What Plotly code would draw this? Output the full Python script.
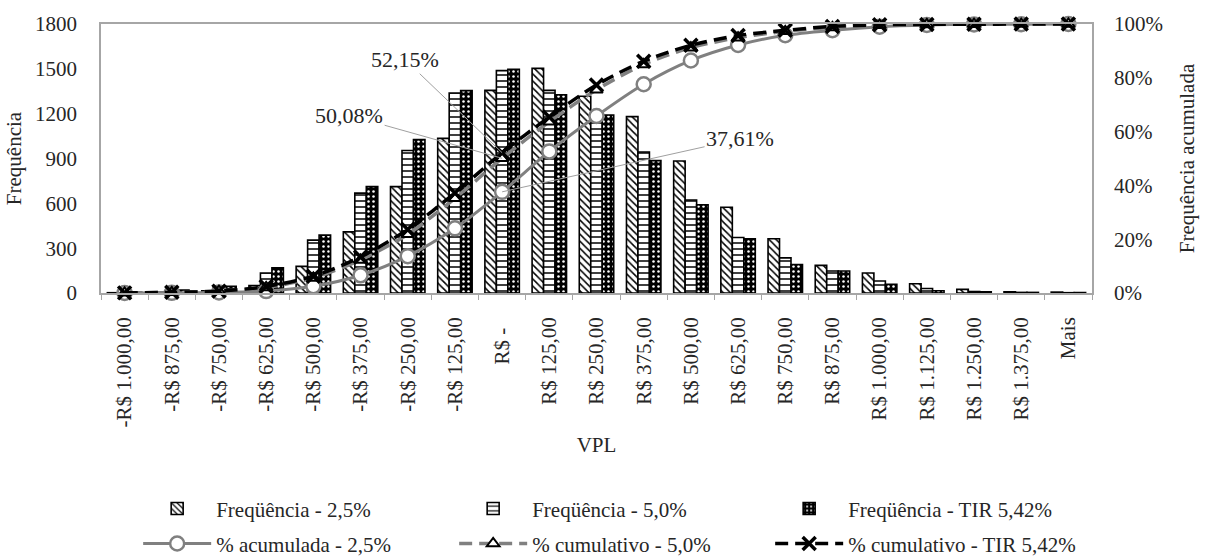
import plotly.graph_objects as go

# VPL classes (bins) shown on the x axis
categorias = [
    "-R$ 1.000,00", "-R$ 875,00", "-R$ 750,00", "-R$ 625,00", "-R$ 500,00",
    "-R$ 375,00", "-R$ 250,00", "-R$ 125,00", "R$ -", "R$ 125,00",
    "R$ 250,00", "R$ 375,00", "R$ 500,00", "R$ 625,00", "R$ 750,00",
    "R$ 875,00", "R$ 1.000,00", "R$ 1.125,00", "R$ 1.250,00", "R$ 1.375,00",
    "Mais",
]

# Frequencies for each discount rate scenario
freq_25 = [2, 5, 14, 50, 178, 409, 712, 1035, 1356, 1503, 1317, 1180, 883, 574,
           363, 185, 134, 62, 24, 8, 6]
freq_50 = [5, 22, 45, 134, 354, 668, 954, 1338, 1488, 1356, 1192, 943, 622, 371,
           235, 147, 80, 30, 10, 4, 2]
freq_tir = [5, 20, 45, 169, 387, 712, 1026, 1354, 1497, 1327, 1191, 886, 591, 363,
            191, 147, 59, 15, 8, 4, 3]

# Cumulative percentages (%)
acum_25 = [0.02, 0.07, 0.21, 0.71, 2.49, 6.58, 13.70, 24.05, 37.61, 52.64, 65.81,
           77.61, 86.44, 92.18, 95.81, 97.66, 99.00, 99.62, 99.86, 99.94, 100.00]
acum_50 = [0.05, 0.27, 0.72, 2.06, 5.60, 12.28, 21.82, 35.20, 50.08, 63.64, 75.56,
           84.99, 91.21, 94.92, 97.27, 98.74, 99.54, 99.84, 99.94, 99.98, 100.00]
acum_tir = [0.05, 0.25, 0.70, 2.39, 6.26, 13.38, 23.64, 37.18, 52.15, 65.42, 77.33,
            86.19, 92.10, 95.73, 97.64, 99.11, 99.70, 99.85, 99.93, 99.97, 100.00]

FONT = "Liberation Serif"
TXT = "#262626"
GRAY = "#808080"
FRAME = "#a6a6a6"
FS = 21

# accounting-style zero label keeps its trailing padding
rotulos = [c + "\u00a0\u00a0" if c == "R$ -" else c for c in categorias]

fig = go.Figure()

bar_line = dict(color="black", width=1.6)
fig.add_trace(go.Bar(
    x=categorias, y=freq_25, name="Freqüência - 2,5%",
    marker=dict(line=bar_line, color="white",
                pattern=dict(shape="\\", fgcolor="black", bgcolor="white",
                             size=5, solidity=0.3, fillmode="replace")),
    legend="legend",
))
fig.add_trace(go.Bar(
    x=categorias, y=freq_50, name="Freqüência - 5,0%",
    marker=dict(line=bar_line, color="white",
                pattern=dict(shape="-", fgcolor="black", bgcolor="white",
                             size=6, solidity=0.25, fillmode="replace")),
    legend="legend",
))
fig.add_trace(go.Bar(
    x=categorias, y=freq_tir, name="Freqüência - TIR 5,42%",
    marker=dict(line=bar_line, color="black",
                pattern=dict(shape=".", fgcolor="white", bgcolor="black",
                             size=5, solidity=0.2, fillmode="replace")),
    legend="legend",
))

fig.add_trace(go.Scatter(
    x=categorias, y=acum_25, yaxis="y2", name="% acumulada - 2,5%",
    mode="lines+markers", cliponaxis=False,
    line=dict(color=GRAY, width=3, shape="spline", smoothing=0.8),
    marker=dict(symbol="circle", size=14, color="white",
                line=dict(color=GRAY, width=2.5)),
    legend="legend2",
))
fig.add_trace(go.Scatter(
    x=categorias, y=acum_50, yaxis="y2", name="% cumulativo - 5,0%",
    mode="lines+markers", cliponaxis=False,
    line=dict(color=GRAY, width=3.5, dash="13px,7px", shape="spline", smoothing=0.8),
    marker=dict(symbol="triangle-up", size=11, color="white",
                line=dict(color="black", width=2)),
    legend="legend2",
))
fig.add_trace(go.Scatter(
    x=categorias, y=acum_tir, yaxis="y2", name="% cumulativo - TIR 5,42%",
    mode="lines+markers", cliponaxis=False,
    line=dict(color="black", width=3.5, dash="13px,7px", shape="spline", smoothing=0.8),
    marker=dict(symbol="x-thin-open", size=13, color="black",
                line=dict(color="black", width=3.5)),
    legend="legend2",
))

# Labels for the cumulative values at "R$ -"
anot = [
    (acum_tir[8], -97, -93),
    (acum_50[8], -153, -43),
    (acum_25[8], 238, -53),
]
for val, ax, ay in anot:
    fig.add_annotation(
        x=categorias[8], y=val, yref="y2", xref="x",
        text=f"{val:.2f}%".replace(".", ","),
        showarrow=True, arrowhead=0, arrowwidth=1, arrowcolor="#a0a0a0",
        ax=ax, ay=ay, font=dict(family=FONT, size=22, color=TXT),
    )

legend_common = dict(
    orientation="h", yanchor="top", xanchor="left", x=0.0375, yref="container",
    font=dict(family=FONT, size=FS, color=TXT), bgcolor="rgba(0,0,0,0)",
    itemwidth=68, entrywidth=233, entrywidthmode="pixels",
)

fig.update_layout(
    width=1207, height=558,
    margin=dict(l=94, r=99, t=21, b=265),
    paper_bgcolor="white", plot_bgcolor="white",
    font=dict(family=FONT, size=FS, color=TXT),
    barmode="group", bargap=0.27, bargroupgap=0,
    legend=dict(y=0.1248, **legend_common),
    legend2=dict(y=0.0621, **legend_common),
    xaxis=dict(
        type="category", range=[-0.5, len(categorias) - 0.5],
        tickmode="array", tickvals=categorias, ticktext=rotulos,
        tickangle=-90, showline=True, linecolor=FRAME, linewidth=1.5,
        mirror=True, ticks="outside", tickson="boundaries", ticklen=5, tickcolor=FRAME,
        ticklabelstandoff=14,
        showgrid=False, tickfont=dict(family=FONT, size=FS, color=TXT),
        title=dict(text="VPL", standoff=11, font=dict(family=FONT, size=FS, color=TXT)),
    ),
    yaxis=dict(
        range=[0, 1800], dtick=300, showgrid=False, zeroline=False,
        showline=True, linecolor=FRAME, linewidth=1.5, mirror=True,
        ticks="", ticklabelstandoff=18,
        tickfont=dict(family=FONT, size=FS, color=TXT),
        title=dict(text="Frequência", standoff=8, font=dict(family=FONT, size=FS, color=TXT)),
    ),
    yaxis2=dict(
        range=[0, 100], dtick=20, ticksuffix="%", overlaying="y", side="right",
        showgrid=False, zeroline=False, showline=False, ticks="", ticklabelstandoff=21,
        tickfont=dict(family=FONT, size=FS, color=TXT),
        title=dict(text="Frequência acumulada", standoff=17,
                   font=dict(family=FONT, size=FS, color=TXT)),
    ),
)

fig.write_html("out.html")
